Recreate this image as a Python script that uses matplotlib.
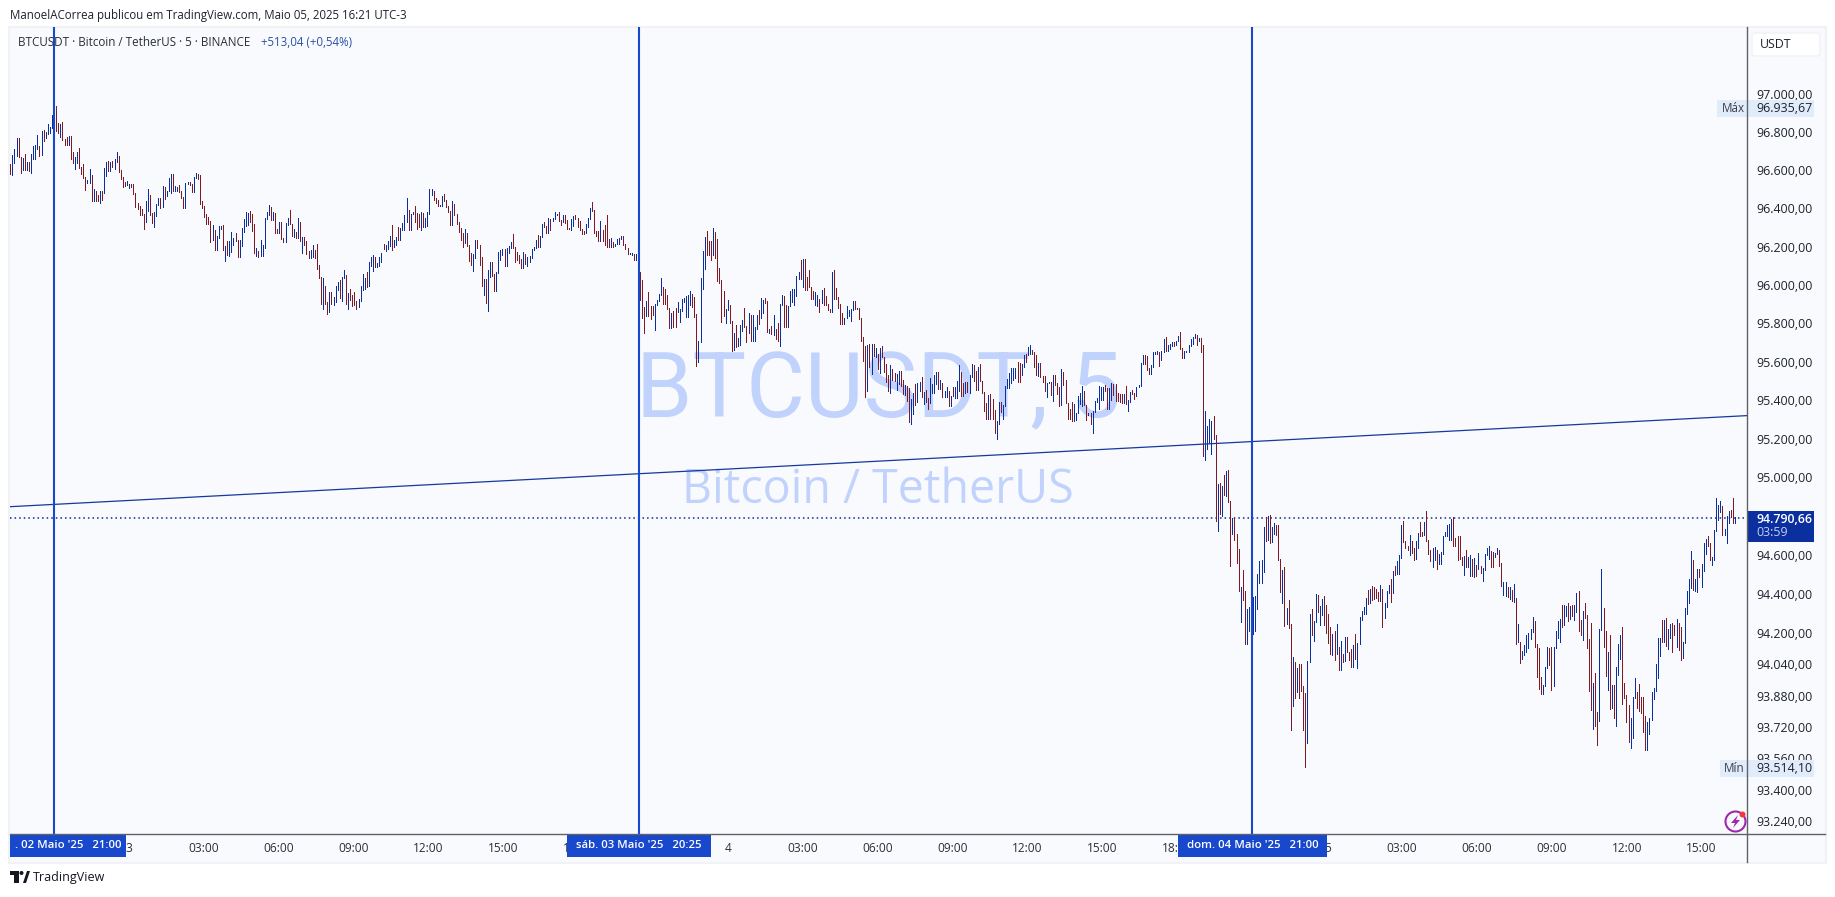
import numpy as np
import matplotlib
matplotlib.use("Agg")
import matplotlib.pyplot as plt
from matplotlib.patches import Rectangle, FancyBboxPatch, Circle, Polygon

plt.rcParams['font.family'] = ['Open Sans', 'DejaVu Sans']

# 5 minute bars, one stretch at a time (u = blue, d = red)
highs_1 = [96634,96682,96713,96771,96771,96671,96666,96687,96645,96645,96687,96729,96734,96787,96729,96808,96813,96802,96845,96829,
           96892,96918,96936,96850,96845,96855,96766,96776,96782,96782,96698,96671,96698,96719,96619,96634,96566,96550,96608,96577,
           96503,96493,96472,96493,96493,96614,96645,96650,96645,96650,96661,96698,96676,96603,96566,96540,96545,96530,96530,96530,
           96482,96430,96414,96398,96372,96440,96503,96472,96377,96382,96424,96456,96456,96519,96514,96493,96561,96582,96582,96519,
           96514,96524,96493,96461,96535,96540,96540,96530,96566,96587,96582,96577,96440,96414,96372,96356,96335,96314,96288,96257,
           96309,96309,96314,96204,96230,96230,96277,96246,96272,96236,96236,96299,96346,96382,96377,96388,96372,96320,96194,96178,
           96236,96209,96351,96382,96419,96409,96382,96377,96293,96330,96330,96246,96325,96351,96393,96320,96293,96277,96351,96330,
           96251,96251,96230,96178,96183,96209,96183,96215,96104,96041,96036,95994,95910,95963,95963,95936,95994,96015,96026,96041,
           96078,96052,95957,95978,95947,95963,95915,95926,95994,96057,96036,96068,96120,96146,96157,96146,96115,96146,96167,96215,
           96209,96230,96257,96314,96236,96251,96304,96299,96325,96367,96456,96393,96372,96382,96414,96377,96372,96382,96377,96351,
           96382,96503,96503,96493,96456,96445,96419,96467,96477,96445,96414,96388,96440,96424,96372,96330]
lows_1 = [96582,96577,96640,96676,96668,96587,96603,96603,96603,96598,96587,96661,96661,96713,96676,96682,96755,96771,96792,96797,
          96824,96822,96808,96797,96776,96761,96734,96734,96734,96661,96640,96608,96640,96614,96582,96561,96498,96535,96535,96440,
          96440,96440,96440,96430,96445,96482,96572,96598,96598,96619,96608,96645,96593,96556,96514,96519,96524,96509,96514,96477,
          96409,96398,96367,96367,96293,96330,96388,96367,96325,96304,96361,96419,96403,96409,96451,96467,96493,96482,96493,96493,
          96493,96488,96456,96403,96403,96530,96524,96488,96488,96561,96556,96424,96403,96356,96320,96320,96225,96236,96183,96183,
          96246,96293,96183,96125,96157,96151,96173,96209,96230,96146,96146,96204,96277,96309,96314,96330,96283,96167,96151,96146,
          96151,96151,96194,96346,96367,96341,96341,96272,96272,96272,96241,96225,96225,96314,96320,96257,96251,96246,96246,96230,
          96167,96209,96162,96141,96141,96146,96141,96083,96036,95900,95873,95900,95847,95858,95900,95894,95910,95973,95931,95915,
          96036,95900,95873,95921,95889,95894,95873,95884,95915,95973,95978,95989,95994,96099,96073,96094,96094,96099,96120,96188,
          96178,96188,96204,96183,96199,96209,96236,96236,96288,96288,96330,96288,96288,96372,96330,96293,96304,96288,96304,96304,
          96309,96372,96472,96445,96430,96414,96414,96414,96440,96409,96382,96314,96314,96367,96320,96277]
dirs_1 = """d u u u d d u d u d u u u u d u d u u u
u u d d u d d d u d d u u d d d d u u d
u d d u d u u d u d u u d d d d u u d d
d d d d d u u d d u u u d u d u u u d u
u d d d u u d d u u d d d d d d d u d u
u u d u d u u u d d u u u u u d d d u d
u u u u u d u d d u d d u u d d u d u d
u d d d u u d d d d u d d u d u u u d u
u d u d d d d u u u u d u u u d u u u d
u u u d u u d u u u u d u u d d d u d u
u u u d d d u u d d d d u d d d""".split()

highs_2 = [96299,96272,96293,96272,96209,96167,96162,96236,96236,96209,96146,96031,96031,96078,96120,96120,96057,96068,96173,96183,
           96188,96188,96194,96204,96225,96267,96199,96173,96157,96136,96173,96162,96146,96151,96188,96199,96236,96262,96257,96320,
           96330,96309,96351,96346,96351,96382,96372,96382,96340,96367,96367,96340,96299,96346,96361,96367,96351,96335,96293,96283,
           96320,96351,96403,96435,96393,96283,96283,96335,96288,96314,96367,96241,96246,96225,96215,96241,96246,96257,96257,96215,
           96194,96167,96167,96162,96162,96151,96068,96026,95884,95915,95963,95889,95889,95900,95921,95952,96036,95989,95978,95947,
           95879,95852,95863,95879,95910,95873,95926,95931,95942,95947,95968,95952,95936,95847,95705,96036,96178,96251,96283,96230,
           96230,96299,96278,96241,96089,96026,95968,95873,95921,95894,95810,95747,95789,95721,95789,95815,95879,95784,95852,95842,
           95842,95779,95842,95868,95931,95921,95931,95915,95768,95784,95842,95768,95800,95900,95947,95942,95894,95889,95968,95978,
           95978,96046,96068,96131,96136,96136,96041,96078,95989,95968,95963,95947,95926,95973,95984,95942,95900,95873,96068,96078,
           95984,95936]
lows_2 = [96236,96199,96220,96204,96125,96104,96073,96141,96194,96104,95994,95947,95905,95863,96041,96046,95968,95968,96062,96131,
          96157,96099,96099,96167,96194,96194,96120,96131,96115,96089,96089,96110,96099,96120,96141,96183,96194,96199,96199,96251,
          96304,96272,96272,96288,96335,96346,96367,96335,96314,96330,96325,96293,96293,96288,96309,96346,96304,96288,96267,96267,
          96272,96304,96346,96388,96272,96257,96230,96230,96230,96209,96199,96199,96199,96199,96204,96215,96215,96241,96209,96188,
          96162,96162,96157,96131,96131,96057,95921,95826,95747,95837,95837,95821,95842,95763,95894,95915,95947,95900,95900,95873,
          95773,95773,95779,95779,95858,95805,95863,95910,95831,95831,95894,95884,95831,95579,95600,95700,95978,96083,96157,96157,
          96131,96157,96141,96020,96010,95805,95837,95800,95868,95800,95658,95663,95674,95679,95689,95758,95779,95700,95747,95710,
          95710,95710,95768,95795,95826,95852,95905,95753,95747,95742,95737,95716,95710,95684,95894,95779,95779,95779,95889,95910,
          95894,95942,96031,96031,95989,95973,95973,95989,95926,95926,95894,95889,95858,95905,95894,95894,95868,95858,95858,95926,
          95926,95879]
dirs_2 = """d d u d d d u u d d d u d u u d d u u u
u d u u u d d d d d u d u u u u u d u u
d d u d u u u d d u d d d u u d d d d d
u u u d d d d u d d d d u d u u u u d d
d u u d u d d d d u d d d u u u u d d d
d u d d u u u u u u u d d d u u u u d d
d u d d d d d u u d d u d u u u d d u d
u u u d u u d d u d u d d u u d d u u u
u u u d u d d d d d u u d u d d d d u d
d d""".split()

highs_3 = [95901,95854,95827,95890,95869,95874,95916,95916,95880,95880,95827,95728,95681,95687,95692,95692,95692,95671,95640,95671,
           95681,95624,95587,95530,95582,95561,95540,95535,95551,95551,95504,95478,95472,95462,95405,95436,95483,95488,95493,95519,
           95441,95452,95410,95514,95483,95530,95546,95546,95504,95488,95446,95467,95446,95420,95467,95467,95499,95582,95546,95488,
           95493,95493,95530,95587,95582,95551,95572,95587,95499,95441,95384,95425,95431,95405,95347,95290,95389,95389,95373,95472,
           95509,95540,95566,95566,95566,95598,95593,95587,95634,95640,95676,95687,95660,95650,95634,95593,95593,95525,95525,95488,
           95493,95493,95530,95530,95488,95467,95561,95546,95504,95384,95352,95389,95379,95332,95420,95436,95472,95446,95373,95332,
           95332,95342,95394,95410,95472,95467,95467,95478,95462,95462,95488,95483,95483,95436,95431,95431,95431,95472,95399,95441,
           95452,95436,95467,95478,95593,95634,95634,95629,95566,95582,95650,95650,95655,95650,95655,95718,95728,95687,95692,95702,
           95702,95707,95733,95754,95671,95655,95655,95687,95718,95728,95744,95739,95723,95723,95687,95342,95264,95305,95290,95316]
lows_3 = [95796,95796,95796,95827,95838,95812,95869,95874,95874,95822,95707,95603,95415,95446,95572,95535,95629,95624,95561,95540,
          95624,95546,95493,95446,95436,95504,95499,95452,95483,95472,95431,95425,95394,95285,95279,95326,95373,95389,95446,95415,
          95379,95389,95352,95384,95436,95436,95483,95457,95457,95415,95415,95415,95368,95368,95420,95410,95410,95446,95420,95420,
          95436,95441,95436,95519,95499,95452,95452,95499,95436,95342,95305,95300,95305,95305,95232,95201,95274,95337,95305,95368,
          95462,95462,95488,95504,95514,95493,95493,95530,95572,95598,95634,95640,95640,95572,95530,95525,95519,95493,95446,95415,
          95488,95425,95394,95478,95431,95368,95373,95478,95384,95300,95300,95290,95290,95295,95332,95379,95368,95373,95295,95321,
          95279,95232,95337,95389,95352,95399,95399,95446,95352,95352,95399,95425,95394,95394,95389,95384,95384,95379,95342,95389,
          95431,95405,95420,95467,95472,95587,95587,95556,95535,95535,95572,95640,95640,95577,95608,95650,95655,95655,95666,95681,
          95681,95687,95707,95666,95619,95619,95650,95650,95681,95692,95723,95687,95707,95650,95112,95091,95149,95180,95123,95201]
dirs_3 = """d d u u u u u d u d d d d u d u d u d u
d d d d u d d u u d d u d d u u d u u d
u d d u u u u d u d u u d u d u u u d d
u d u u d d u d d d d u d d d u u d u u
u u u u u d d u u d u u d d d u d d d u
u d u d d d u d d d d d u u u u u d d u
d u u u u u u d d u u d d d d d u d u u
d d u u u u d d d u u u u d u u d u u u
d u u d d u u u u u u d u d d u u u u d""".split()

highs_4 = [95217,94965,94971,94955,95012,95032,95037,94878,94791,94791,94708,94631,94436,94523,94416,94323,94333,94364,94385,94390,
           94503,94570,94575,94744,94796,94801,94806,94744,94765,94755,94755,94580,94523,94539,94328,94369,94246,94076,94051,94020,
           94040,94040,93927,93891,94056,94297,94323,94261,94400,94395,94338,94374,94390,94344,94297,94231,94195,94210,94246,94128,
           94159,94092,94179,94179,94102,94117,94138,94195,94148,94282,94313,94333,94380,94421,94426,94441,94436,94426,94410,94446,
           94426,94354,94416,94446,94477,94518,94544,94570,94600,94755,94775,94672,94647,94703,94672,94636,94672,94714,94770,94719,
           94770,94827,94678,94626,94636,94642,94626,94606,94616,94698,94719,94755,94760,94786,94796,94688,94698,94698,94590,94595,
           94626,94590,94600,94580,94585,94549,94611,94544,94534,94606,94636,94647,94621,94616,94611,94636,94626,94559,94462,94462,
           94436,94436,94421,94451,94380,94246,94153,94107,94138,94189,94200,94220,94282,94261,94143,94123,93974,93932,94025,94128,
           94123,94128,94128,94210,94261,94272,94344,94344,94338,94354,94338,94344,94344,94405,94416]
lows_4 = [94777,94724,94811,94801,94909,94904,94873,94544,94708,94678,94559,94416,94256,94369,94143,94143,94210,94266,94195,94210,
          94323,94457,94457,94513,94672,94678,94662,94667,94708,94703,94575,94410,94354,94236,94246,94225,93706,93825,93866,93896,
          93866,93902,93706,93514,93640,94051,94189,94159,94256,94308,94241,94292,94241,94200,94148,94092,94087,94061,94092,94010,
          94010,94051,94056,94102,94061,94025,94025,94066,94020,94143,94266,94297,94297,94349,94354,94369,94374,94380,94364,94364,
          94231,94277,94333,94405,94359,94405,94498,94503,94503,94585,94667,94636,94626,94600,94611,94575,94580,94636,94698,94698,
          94703,94672,94606,94570,94539,94575,94529,94554,94554,94606,94698,94698,94678,94678,94647,94647,94575,94580,94549,94498,
          94539,94539,94493,94493,94487,94493,94529,94508,94467,94523,94600,94580,94539,94539,94590,94606,94544,94441,94395,94390,
          94385,94374,94364,94359,94143,94153,94046,94066,94087,94102,94123,94169,94205,94128,93974,93912,93886,93886,93927,94020,
          94035,93907,93927,94123,94174,94153,94231,94241,94287,94261,94272,94287,94266,94308,94210]
dirs_4 = """d u d u d u d d u d d d u d d u u d u u
u u u u d u d u u d d d u d u d d u d u
d d d d u u d u u d u u d d d d u d u d
u d u d d d u d u u u u u d u d d d d u
d u u u d u d u u u d d d u d d u u d d
u d d d u u d u u u u u u u d d d d d u
d u u d u d u d u u u u d d u u d d u u
d u d u d u d u u u u u u d d d d u u u
d d u u u u d u u d u d u u d""".split()

highs_5 = [94264,94315,94351,94294,94171,94253,93946,93997,93797,94222,94530,94330,94212,94100,94187,93936,93936,94028,94141,94192,
           94228,93946,93884,93833,93766,93874,93971,93900,93941,93874,93874,93777,93746,93766,93900,93920,94043,94176,94176,94264,
           94264,94279,94222,94248,94253,94243,94269,94253,94228,94156,94330,94417,94479,94622,94576,94479,94530,94530,94556,94663,
           94684,94699,94663,94591,94730,94894,94858,94878,94853,94735,94802,94827,94832,94894,94796]
lows_5 = [94187,94166,94279,94125,93905,93807,93710,93726,93628,93751,94217,94130,93982,93910,93813,93818,93767,93726,93987,94069,
          93838,93869,93746,93644,93613,93664,93869,93818,93802,93792,93695,93603,93603,93685,93756,93864,93905,93971,94084,94156,
          94156,94135,94120,94176,94100,94192,94130,94115,94059,94074,94151,94299,94356,94433,94422,94417,94412,94489,94438,94520,
          94607,94648,94576,94550,94576,94725,94781,94822,94704,94704,94663,94766,94796,94766,94766]
dirs_5 = """d u d d d d u d d u u d d u d u d u u u
d d d d u u u d d d d d u u u u u u u d
u d u u d d u d d u u u u u d u u d u u
u d d u u u u u d u u u d d u""".split()

highs = highs_1 + highs_2 + highs_3 + highs_4 + highs_5
lows = lows_1 + lows_2 + lows_3 + lows_4 + lows_5
dirs = dirs_1 + dirs_2 + dirs_3 + dirs_4 + dirs_5

price_ticks = [97000, 96800, 96600, 96400, 96200, 96000, 95800, 95600, 95400, 95200, 95000,
               94600, 94400, 94200, 94040, 93880, 93720, 93560, 93400, 93240]
time_ticks = [57, 93, 129, 165, 201, 237, 273, 309, 345, 381, 417, 453, 489, 525, 561, 597,
              633, 669, 705, 741, 777, 813]
time_labels = ['3', '03:00', '06:00', '09:00', '12:00', '15:00', '18:00', '21:00',
               '4', '03:00', '06:00', '09:00', '12:00', '15:00', '18:00', '21:00',
               '5', '03:00', '06:00', '09:00', '12:00', '15:00']
marked_bars = [21, 302, 597]
trend_bars = [-0.14, 834.8]
trend_prices = [94849, 95320]
last_price = 94790.66

W, H = 1835, 897
BLUE = '#0b2f9f'
RED = '#7f1a24'
MARK = '#1848cc'
AXIS = '#5f6168'
TEXT = '#1e222d'
BG = '#f9fafd'


def pt_br(v):
    return f"{v:,.2f}".replace(",", "X").replace(".", ",").replace("X", ".")


fig = plt.figure(figsize=(W / 100, H / 100), dpi=100, facecolor='white')

# back layer in pixels: panel and watermark
back = fig.add_axes([0, 0, 1, 1], zorder=0)
back.set_xlim(0, W)
back.set_ylim(H, 0)
back.axis('off')
back.add_patch(Rectangle((9, 27), 1817, 836, fc=BG, ec='#f0f2f6', lw=1.5))
back.text(879, 417, 'BTCUSDT, 5', fontsize=65, family='Roboto',
          color='#c1d3fc', ha='center', va='baseline')
back.text(878, 503, 'Bitcoin / TetherUS', fontsize=33.5, color='#c1d3fc', ha='center', va='baseline')

# price chart, log scale like the original
ax = fig.add_axes([10 / W, 1 - 834 / H, 1737 / W, 807 / H], zorder=1)
ax.patch.set_alpha(0)
ax.set_yscale('log')
ax.set_xlim(-0.14, 834.8)
ax.set_ylim(93175.6, 97356)
x = np.linspace(0, 829, len(highs))
colors = [BLUE if d == 'u' else RED for d in dirs]
ax.vlines(x, lows, highs, colors=colors, lw=0.72, antialiased=False, zorder=3)
ax.plot(trend_bars, trend_prices, color='#16389f', lw=0.9, zorder=4)
ax.axhline(last_price, color='#0a2a90', lw=1.1, ls=(0, (1, 2)), zorder=2)
for b in marked_bars:
    ax.axvline(b, color=MARK, lw=1.5, zorder=5)

for s in ['left', 'top', 'right', 'bottom']:
    ax.spines[s].set_visible(False)
ax.yaxis.tick_right()
ax.minorticks_off()
ax.set_yticks(price_ticks)
ax.set_yticklabels([pt_br(p) for p in price_ticks], fontsize=8.9, color=TEXT)
ax.minorticks_off()
ax.set_xticks(time_ticks)
ax.set_xticklabels(time_labels, fontsize=8.6, color='#2a2e39')
ax.tick_params(axis='both', length=0)
ax.tick_params(axis='y', pad=6.5)
ax.tick_params(axis='x', pad=6)

# front layer in pixels: labels on top of the axes
top = fig.add_axes([0, 0, 1, 1], zorder=2)
top.set_xlim(0, W)
top.set_ylim(H, 0)
top.axis('off')
top.patch.set_alpha(0)

top.plot([10, 1825], [834, 834], color=AXIS, lw=1)
top.plot([1747, 1747], [27, 862], color=AXIS, lw=1)

top.text(10, 15, 'ManoelACorrea publicou em TradingView.com, Maio 05, 2025 16:21 UTC-3',
         fontsize=8.3, color=TEXT, va='center')
top.text(18, 42, 'BTCUSDT · Bitcoin / TetherUS · 5 · BINANCE', fontsize=8.4, color='#2a2e39', va='center')
top.text(261, 42, '+513,04 (+0,54%)', fontsize=8.3, color='#2a50a8', va='center')

# date flags on the time axis
flags = [(10, 126, ". 02 Maio '25   21:00"), (567, 711, "sáb. 03 Maio '25   20:25"),
         (1178, 1327, "dom. 04 Maio '25   21:00")]
for x0, x1, label in flags:
    top.add_patch(Rectangle((x0, 835), x1 - x0, 22, fc=MARK, ec='none'))
    top.text((x0 + x1) / 2, 846, label, fontsize=8.2, color='white', ha='center', va='center',
             fontweight='semibold')

# price axis labels
top.add_patch(FancyBboxPatch((1753, 34), 66, 21, boxstyle='round,pad=1,rounding_size=3',
                             fc='white', ec='#f0f2f6', lw=1))
top.text(1760, 44.5, 'USDT', fontsize=8.9, color=TEXT, va='center')

top.add_patch(Rectangle((1717, 100), 97, 17, fc='#e1ecfb', ec='none'))
top.text(1722, 108.5, 'Máx', fontsize=8.4, color='#3a3e49', va='center')
top.text(1756, 108.5, '96.935,67', fontsize=8.9, color=TEXT, va='center')
top.add_patch(Rectangle((1720, 760), 94, 17, fc='#e1ecfb', ec='none'))
top.text(1724, 768.5, 'Mín', fontsize=8.4, color='#3a3e49', va='center')
top.text(1756, 768.5, '93.514,10', fontsize=8.9, color=TEXT, va='center')

top.add_patch(Rectangle((1748, 511), 66, 31, fc=BLUE, ec='none'))
top.text(1756, 519.5, pt_br(last_price), fontsize=8.9, color='white', va='center', fontweight='semibold')
top.text(1756, 533, '03:59', fontsize=8.9, color='#c3cff0', va='center')

# lightning badge
top.add_patch(Circle((1735.5, 821.5), 10, fc='none', ec='#9c27b0', lw=1.5))
top.add_patch(Polygon([[1738, 815], [1731, 823], [1735, 823], [1733, 828], [1740, 820], [1736, 820]],
                      fc='#9c27b0', ec='none'))
top.add_patch(Circle((1742.5, 814.5), 3, fc='#f23645', ec='none'))

# TradingView logo
top.add_patch(Polygon([[10, 871], [19, 871], [19, 883], [14, 883], [14, 875], [10, 875]], fc='#131722', ec='none'))
top.add_patch(Circle((21.5, 873), 2, fc='#131722', ec='none'))
top.add_patch(Polygon([[23, 883], [27, 871], [30, 871], [26, 883]], fc='#131722', ec='none'))
top.text(33, 877, 'TradingView', fontsize=9, color='#131722', va='center')

fig.savefig('out.png', dpi=100)
